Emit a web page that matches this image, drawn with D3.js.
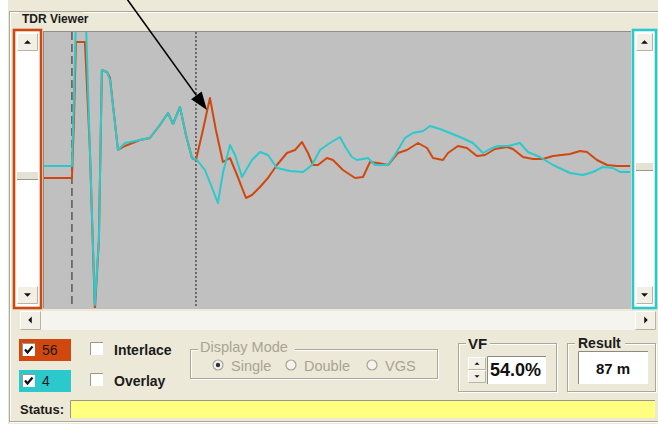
<!DOCTYPE html>
<html>
<head>
<meta charset="utf-8">
<script src="https://cdn.jsdelivr.net/npm/d3@7/dist/d3.min.js"></script>
<style>
  html, body { margin: 0; padding: 0; background: #ffffff; }
  svg { display: block; }
  text { font-family: "Liberation Sans", Arial, sans-serif; }
</style>
</head>
<body>
<svg id="view" width="658" height="427"></svg>
<script>
// ---- trace data: distance (m) and reflected amplitude (arbitrary units) ----
const pair56Dist = [-19.6, 0, 1.4, 2.8, 9.1, 12.6, 16.1, 18.9, 21.0, 24.6, 26.7, 32.3, 37.2, 47.7, 54.7, 61.7, 67.4, 70.9, 75.8, 80.0, 84.2, 87.0, 91.9, 96.8, 101.0, 105.9, 110.9, 115.8, 122.1, 126.3, 131.9, 137.5, 143.8, 150.8, 156.5, 161.4, 165.6, 169.1, 172.6, 178.9, 183.1, 190.1, 198.6, 204.2, 209.1, 214.7, 221.7, 228.7, 235.0, 242.8, 249.1, 253.3, 260.3, 263.8, 270.8, 277.1, 284.1, 289.8, 296.8, 305.2, 309.4, 316.4, 323.4, 330.4, 337.5, 349.4, 356.4, 361.3, 368.3, 375.4, 382.4, 391.5];
const pair56Amp  = [-8, -8, 50, 128, 128, 20, -140, -70, 100, 98, 92, 20, 24, 30, 32, 45, 57, 46, 63, 35, 12, 10, 40, 72, 40, 8, 12, -5, -28, -25, -17, -8, 5, 17, 20, 28, 17, 5, 5, 12, 10, 0, -8, -7, 8, 7, 5, 17, 20, 27, 22, 12, 10, 17, 24, 22, 14, 15, 21, 23, 21, 13, 11, 11, 14, 16, 19, 18, 10, 5, 4, 4];

const pair4Dist = [-19.6, 0, 1.4, 2.8, 9.8, 12.6, 16.1, 18.9, 21.0, 24.6, 26.7, 32.3, 37.2, 47.7, 54.7, 61.7, 67.4, 70.9, 75.8, 80.0, 84.2, 87.7, 93.3, 97.5, 102.4, 105.9, 110.9, 114.4, 119.3, 126.3, 131.9, 137.5, 143.8, 153.0, 162.1, 168.4, 174.0, 181.0, 188.0, 192.2, 196.4, 200.0, 207.7, 212.6, 221.7, 226.6, 233.6, 239.2, 246.3, 251.2, 258.2, 265.2, 272.2, 281.3, 288.4, 293.3, 298.9, 305.9, 314.3, 319.9, 328.3, 337.5, 349.4, 358.5, 365.5, 372.5, 379.6, 384.5, 391.5];
const pair4Amp  = [4, 4, 70, 150, 150, 20, -135, -70, 100, 98, 90, 20, 27, 30, 32, 45, 57, 46, 63, 35, 12, 10, 0, -15, -33, -3, 25, 15, -7, 10, 18, 15, 2, -1, -2, 5, 20, 27, 33, 22, 13, 10, 12, 5, 5, 15, 32, 37, 39, 44, 41, 37, 33, 27, 17, 21, 24, 24, 27, 18, 13, 5, -3, -5, -2, 3, 2, -2, -2];

const pairLabels = ["56", "4"];
const pairColors = ["#D0480F", "#2CC9CC"];
const velocityFactor = 54.0;   // %
const resultDistance = 87;     // m
const startDistance = 0;       // m
const arrowFrom = [38.6, 171]; // annotation arrow, in data units
const arrowTo   = [94.7, 60];
const modes = ["Single", "Double", "VGS"];

// ---- layout ----
const svg = d3.select("#view");
const face = "#ECE9D8", etchDark = "#ACA899", etchLight = "#FFFFFF";
const plot = { x0: 44, x1: 630, y0: 32, y1: 308 };

const xScale = d3.scaleLinear().domain([-19.6, 391.5]).range([plot.x0, plot.x1]);
const yScale = d3.scaleLinear().domain([-138, 138]).range([plot.y1, plot.y0]);

// window face
svg.append("rect").attr("x", 8).attr("y", 0).attr("width", 650).attr("height", 424).attr("fill", face);

// group frame of the viewer
function etchedRect(x, y, w, h) {
  svg.append("rect").attr("x", x + 1.5).attr("y", y + 1.5).attr("width", w).attr("height", h)
    .attr("fill", "none").attr("stroke", etchLight);
  svg.append("rect").attr("x", x + 0.5).attr("y", y + 0.5).attr("width", w).attr("height", h)
    .attr("fill", "none").attr("stroke", etchDark);
}
etchedRect(9, 11, 660, 410);
svg.append("rect").attr("x", 19).attr("y", 12).attr("width", 64).attr("height", 14).attr("fill", face);
svg.append("text").attr("x", 22).attr("y", 23).attr("font-size", 12).attr("font-weight", "bold")
  .attr("fill", "#1b1b1b").text("TDR Viewer");

// ---- scrollbars ----
function tri(cx, cy, dir, s) {
  s = s || 4;
  let pts;
  if (dir === "up") pts = [[cx - s, cy + s / 2], [cx + s, cy + s / 2], [cx, cy - s / 2]];
  else if (dir === "down") pts = [[cx - s, cy - s / 2], [cx + s, cy - s / 2], [cx, cy + s / 2]];
  else if (dir === "left") pts = [[cx + s / 2, cy - s], [cx + s / 2, cy + s], [cx - s / 2, cy]];
  else pts = [[cx - s / 2, cy - s], [cx - s / 2, cy + s], [cx + s / 2, cy]];
  svg.append("polygon").attr("points", pts.map(p => p.join(",")).join(" ")).attr("fill", "#111");
}
function button(x, y, w, h) {
  svg.append("rect").attr("x", x).attr("y", y).attr("width", w).attr("height", h).attr("fill", "#F1EFE6");
  svg.append("path").attr("d", `M${x + 0.5},${y + h - 0.5}V${y + 0.5}H${x + w - 0.5}`).attr("fill", "none").attr("stroke", "#fff");
  svg.append("path").attr("d", `M${x + 0.5},${y + h - 0.5}H${x + w - 0.5}V${y + 0.5}`).attr("fill", "none").attr("stroke", "#B8B4A2");
}
function vScroll(x, w, color, thumbY) {
  svg.append("rect").attr("x", x).attr("y", 30).attr("width", w).attr("height", 278)
    .attr("fill", "#ffffff").attr("stroke", color).attr("stroke-width", 2.6);
  button(x + 3, 33, w - 6, 18);
  tri(x + w / 2, 42, "up", 3.5);
  svg.append("rect").attr("x", x + 3).attr("y", thumbY).attr("width", w - 6).attr("height", 8).attr("fill", "#E4E1D5");
  svg.append("line").attr("x1", x + 3).attr("x2", x + w - 3).attr("y1", thumbY + 7.5).attr("y2", thumbY + 7.5).attr("stroke", "#9C9A90");
  button(x + 3, 286, w - 6, 18);
  tri(x + w / 2, 295, "down", 3.5);
}
vScroll(14, 27, pairColors[0], 172);
vScroll(633, 23, pairColors[1], 163);

// horizontal scrollbar
svg.append("rect").attr("x", 20).attr("y", 311).attr("width", 636).attr("height", 19).attr("fill", "#F5F4EE");
button(20, 311, 21, 19); tri(30, 320, "left", 3.5);
button(635, 311, 21, 19); tri(646, 320, "right", 3.5);

// ---- plot area ----
svg.append("rect").attr("x", plot.x0 - 1).attr("y", plot.y0 - 1).attr("width", plot.x1 - plot.x0 + 2)
  .attr("height", plot.y1 - plot.y0 + 2).attr("fill", "#C0C0C0");
svg.append("path").attr("d", `M${plot.x0 - 0.5},${plot.y1}V${plot.y0 - 0.5}H${plot.x1 + 1}`)
  .attr("fill", "none").attr("stroke", "#8E8E8E");

svg.append("defs").append("clipPath").attr("id", "plotClip").append("rect")
  .attr("x", plot.x0).attr("y", plot.y0).attr("width", plot.x1 - plot.x0).attr("height", plot.y1 - plot.y0);

const g = svg.append("g").attr("clip-path", "url(#plotClip)");

// start marker (dashed) and cursor (dotted)
g.append("line").attr("x1", xScale(startDistance)).attr("x2", xScale(startDistance))
  .attr("y1", plot.y0).attr("y2", plot.y1).attr("stroke", "#4a4a4a").attr("stroke-width", 1.3)
  .attr("stroke-dasharray", "8,4");
g.append("line").attr("x1", xScale(resultDistance)).attr("x2", xScale(resultDistance))
  .attr("y1", plot.y0).attr("y2", plot.y1).attr("stroke", "#3c3c3c").attr("stroke-width", 1.3)
  .attr("stroke-dasharray", "2,2");

const line = d3.line().x(d => xScale(d[0])).y(d => yScale(d[1]));
const traces = [
  d3.zip(pair56Dist, pair56Amp),
  d3.zip(pair4Dist, pair4Amp)
];
traces.forEach((t, i) => {
  g.append("path").datum(t).attr("d", line).attr("fill", "none")
    .attr("stroke", pairColors[i]).attr("stroke-width", 2).attr("stroke-linejoin", "round");
});

// annotation arrow
(function () {
  const x1 = xScale(arrowFrom[0]), y1 = yScale(arrowFrom[1]);
  const x2 = xScale(arrowTo[0]), y2 = yScale(arrowTo[1]);
  const ang = Math.atan2(y2 - y1, x2 - x1);
  const L = 18, W = 6.5;
  const bx = x2 - L * Math.cos(ang), by = y2 - L * Math.sin(ang);
  svg.append("line").attr("x1", x1).attr("y1", y1).attr("x2", bx).attr("y2", by)
    .attr("stroke", "#000").attr("stroke-width", 1.6);
  const px = -Math.sin(ang) * W, py = Math.cos(ang) * W;
  svg.append("polygon")
    .attr("points", [[x2, y2], [bx + px, by + py], [bx - px, by - py]].map(p => p.join(",")).join(" "))
    .attr("fill", "#000");
})();

// ---- controls ----
function checkbox(x, y, checked) {
  svg.append("rect").attr("x", x).attr("y", y).attr("width", 13).attr("height", 13).attr("fill", "#fff");
  svg.append("path").attr("d", `M${x + 0.5},${y + 13}V${y + 0.5}H${x + 13}`).attr("fill", "none").attr("stroke", "#9a978a");
  if (checked) {
    svg.append("path").attr("d", `M${x + 3},${y + 6.5}L${x + 5.5},${y + 9.5}L${x + 10.5},${y + 3.5}`)
      .attr("fill", "none").attr("stroke", "#111").attr("stroke-width", 2.2);
  }
}

pairLabels.forEach((lab, i) => {
  const y = i === 0 ? 339 : 370;
  svg.append("rect").attr("x", 19).attr("y", y).attr("width", 52).attr("height", 22).attr("fill", pairColors[i]);
  checkbox(22, y + 4, true);
  svg.append("text").attr("x", 42).attr("y", y + 16).attr("font-size", 14).attr("fill", "#1a1a1a").text(lab);
});

checkbox(90, 342, false);
svg.append("text").attr("x", 114).attr("y", 355).attr("font-size", 14).attr("font-weight", "bold")
  .attr("fill", "#1b1b1b").text("Interlace");
checkbox(90, 373, false);
svg.append("text").attr("x", 114).attr("y", 386).attr("font-size", 14).attr("font-weight", "bold")
  .attr("fill", "#1b1b1b").text("Overlay");

// display mode (disabled)
const grey = "#A8A495";
etchedRect(190, 349, 247, 29);
svg.append("rect").attr("x", 198).attr("y", 341).attr("width", 97).attr("height", 14).attr("fill", face);
svg.append("text").attr("x", 200).attr("y", 352).attr("font-size", 14.5).attr("fill", grey).text("Display Mode");
const modeX = [218, 291, 372];
modes.forEach((m, i) => {
  svg.append("circle").attr("cx", modeX[i]).attr("cy", 365).attr("r", 5).attr("fill", "#F4F3EE")
    .attr("stroke", grey).attr("stroke-width", 1.2);
  if (i === 0) svg.append("circle").attr("cx", modeX[i]).attr("cy", 365).attr("r", 2.2).attr("fill", "#333");
  svg.append("text").attr("x", modeX[i] + 13).attr("y", 371).attr("font-size", 14.5).attr("fill", grey).text(m);
});

// VF box
etchedRect(458, 343, 98, 48);
svg.append("rect").attr("x", 466).attr("y", 337).attr("width", 24).attr("height", 12).attr("fill", face);
svg.append("text").attr("x", 468).attr("y", 349).attr("font-size", 15).attr("font-weight", "bold")
  .attr("fill", "#1b1b1b").text("VF");
button(468, 357, 18, 13); tri(477, 363.5, "up", 2.5);
button(468, 370, 18, 13); tri(477, 376.5, "down", 2.5);
svg.append("rect").attr("x", 487).attr("y", 356).attr("width", 59).attr("height", 28).attr("fill", "#fff");
svg.append("path").attr("d", "M487.5,384V356.5H546").attr("fill", "none").attr("stroke", "#8d8b80");
svg.append("text").attr("x", 490).attr("y", 376).attr("font-size", 18).attr("font-weight", "bold")
  .attr("fill", "#111").text(velocityFactor.toFixed(1) + "%");

// Result box
etchedRect(567, 343, 88, 48);
svg.append("rect").attr("x", 575).attr("y", 337).attr("width", 50).attr("height", 12).attr("fill", face);
svg.append("text").attr("x", 578).attr("y", 348).attr("font-size", 14).attr("font-weight", "bold")
  .attr("fill", "#1b1b1b").text("Result");
svg.append("rect").attr("x", 578).attr("y", 351).attr("width", 70).attr("height", 33).attr("fill", "#fff");
svg.append("path").attr("d", "M578.5,384V351.5H648").attr("fill", "none").attr("stroke", "#8d8b80");
svg.append("text").attr("x", 613).attr("y", 374).attr("text-anchor", "middle").attr("font-size", 15)
  .attr("font-weight", "bold").attr("fill", "#111").text(resultDistance + " m");

// status bar
svg.append("text").attr("x", 20).attr("y", 414).attr("font-size", 13).attr("font-weight", "bold")
  .attr("fill", "#1b1b1b").text("Status:");
svg.append("rect").attr("x", 70).attr("y", 400).attr("width", 585).attr("height", 18).attr("fill", "#FFFF80");
svg.append("path").attr("d", "M70.5,418V400.5H655").attr("fill", "none").attr("stroke", "#9a978a");
</script>
</body>
</html>
